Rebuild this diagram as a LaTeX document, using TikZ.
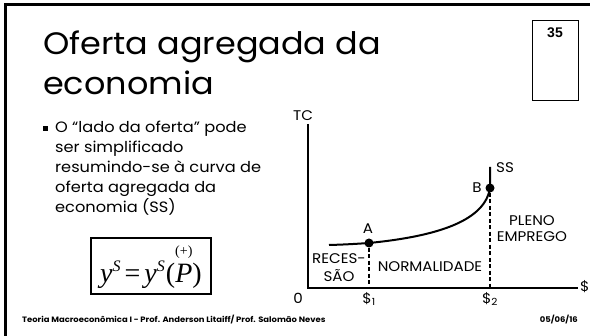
\documentclass[tikz,border=0pt]{standalone}
\usepackage{fontspec}
\setmainfont{Poppins}
\newfontfamily\cgf[FakeStretch=1.08]{Poppins}
\newfontfamily\arialf{Liberation Sans}
\newfontfamily\timesf{Liberation Serif}
\newcommand\plusover[1]{\leavevmode\vbox{\halign{\hfil##\hfil\cr{\fontsize{14}{14}\selectfont(+)}\cr\noalign{\kern-1pt}#1\cr}}}
\begin{document}
\begin{tikzpicture}[x=1pt,y=-1pt,
  titletxt/.style={anchor=base west,inner sep=0pt,font=\cgf\fontsize{31}{31}\selectfont},
  bodytxt/.style={anchor=base west,inner sep=0pt,font=\cgf\fontsize{15}{15}\selectfont},
  lbl/.style={inner sep=0pt,font=\cgf\fontsize{14}{14}\selectfont},
  foot/.style={anchor=base west,inner sep=0pt,font=\cgf\bfseries\fontsize{7.8}{7.8}\selectfont},
  axisline/.style={line width=2.4pt},
  curveline/.style={line width=2pt},
  dashline/.style={line width=1.3pt,dash pattern=on 4pt off 2.5pt},
  dot/.style={circle,fill=black,inner sep=0pt,minimum size=9pt}]
\useasboundingbox (0,0) rectangle (590,336);
\fill[white] (0,0) rectangle (590,336);
% slide frame
\coordinate (FBL) at (5,336);
\coordinate (FTL) at (5,5);
\coordinate (FTR) at (590,5);
\draw[line width=3pt] (FBL) -- (FTL) -- (FTR);
% page number box
\node[draw,line width=0.8pt,minimum width=46pt,minimum height=80pt,inner sep=0pt] (pbox) at (555,60) {};
\node[inner sep=0pt,font=\arialf\bfseries\fontsize{14}{14}\selectfont] (pnum) at (555,33) {35};
% title
\node[titletxt] (t1) at (43,55) {Oferta agregada da};
\node[titletxt] (t2) at (43,95) {economia};
% bullet
\node[fill=black,inner sep=0pt,minimum size=5pt] (bul) at (45,129) {};
\node[bodytxt] (b1) at (55,133) {O “lado da oferta” pode};
\node[bodytxt] (b2) at (55,153) {ser simplificado};
\node[bodytxt] (b3) at (55,173) {resumindo-se à curva de};
\node[bodytxt] (b4) at (55,193) {oferta agregada da};
\node[bodytxt] (b5) at (55,213) {economia (SS)};
% formula
\node[draw,line width=1.3pt,minimum width=120pt,minimum height=56pt,inner sep=0pt] (fbox) at (151,266) {};
\node[anchor=base,inner sep=0pt,font=\timesf\fontsize{28}{28}\selectfont] (eq) at (151,283)
  {\textit{y}\raisebox{0.42em}{\fontsize{16}{16}\selectfont\textit{S}}\hspace{4pt}=\hspace{4pt}\textit{y}\raisebox{0.42em}{\fontsize{16}{16}\selectfont\textit{S}}\hspace{1pt}(\plusover{\textit{P}})};
% axes
\coordinate (O) at (308,288);
\coordinate (Ytop) at (308,124);
\coordinate (Xend) at (578,288);
\draw[axisline] (Ytop) -- (O) -- (Xend);
\node[lbl,anchor=base] (tc) at (303,121) {TC};
\node[lbl,anchor=west] (dol) at (580,287) {\$};
\node[lbl] (zero) at (298,298) {0};
% points
\node[dot] (A) at (369,243) {};
\node[dot] (B) at (490,188) {};
\coordinate (S0) at (329,245);
\coordinate (SStop) at (490,167);
\draw[curveline] (S0) .. controls (345,244.6) and (357,243.8) .. (A.center)
  .. controls (440,236) and (485,220) .. (B.center) -- (SStop);
\coordinate (A0) at (369,288);
\coordinate (B0) at (490,288);
\draw[dashline] (A) -- (A0);
\draw[dashline] (B) -- (B0);
\node[lbl] (la) at (368,229) {A};
\node[lbl] (lb) at (477,188) {B};
\node[lbl,anchor=west] (lss) at (496,168) {SS};
\node[lbl] (d1) at (369,299) {\$\textsubscript{1}};
\node[lbl] (d2) at (490,299) {\$\textsubscript{2}};
\node[lbl] (rec1) at (339,259) {RECES-};
\node[lbl] (rec2) at (339,276) {SÃO};
\node[lbl] (norm) at (430,267) {NORMALIDADE};
\node[lbl] (pl1) at (532,221) {PLENO};
\node[lbl] (pl2) at (532,237) {EMPREGO};
% footer
\node[foot] (f1) at (22,323) {Teoria Macroeconômica I - Prof. Anderson Litaiff/ Prof. Salomão Neves};
\node[foot,anchor=base east] (f2) at (578,323) {05/06/16};
\end{tikzpicture}
\end{document}
